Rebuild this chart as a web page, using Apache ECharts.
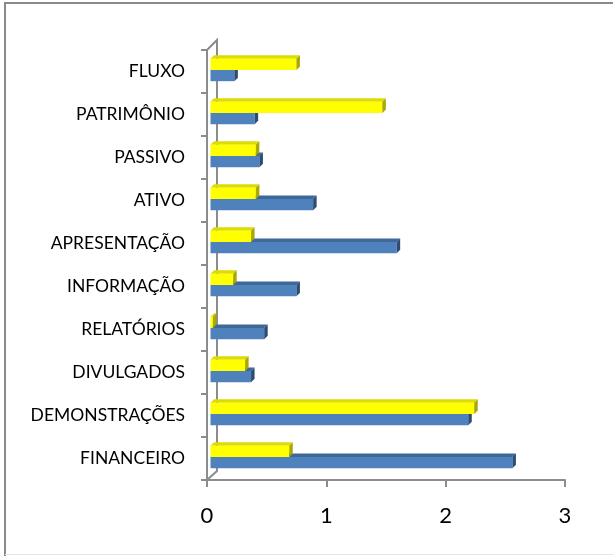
<!DOCTYPE html>
<html>
<head>
<meta charset="utf-8">
<script src="https://cdn.jsdelivr.net/npm/echarts@6/dist/echarts.min.js"></script>
<style>
html,body{margin:0;padding:0;background:#fff;}
#c{width:613px;height:556px;}
</style>
</head>
<body>
<div id="c"></div>
<script>
const categories = ['FINANCEIRO','DEMONSTRAÇÕES','DIVULGADOS','RELATÓRIOS','INFORMAÇÃO','APRESENTAÇÃO','ATIVO','PASSIVO','PATRIMÔNIO','FLUXO'];
const blueValues = [2.53, 2.16, 0.34, 0.45, 0.72, 1.56, 0.86, 0.41, 0.37, 0.20];
const yellowValues = [0.66, 2.21, 0.29, 0.02, 0.19, 0.34, 0.38, 0.38, 1.44, 0.72];
const xTicks = [0, 1, 2, 3];

const G = {left: 207, top: 50, right: 48, bottom: 76};
const W = 613, H = 556;
const axisColor = '#8c8c8c';

function makeRender(slot, front, topC, sideC) {
  return function (params, api) {
    const v = api.value(0), idx = api.value(1);
    const p0 = api.coord([0, idx]);
    const p1 = api.coord([v, idx]);
    const band = api.size([0, 1])[1];
    const bh = band * 0.26;
    const cy = p0[1] - 1.5;
    const top = slot === 0 ? cy : cy - bh;
    const ox = 3.5;
    const x0 = p0[0] + ox, x1 = Math.max(p1[0] + ox, x0 + 1);
    const dx = 3.5, dy = 3.5;
    return {
      type: 'group',
      children: [
        {type: 'polygon', shape: {points: [[x0, top], [x0 + dx, top - dy], [x1 + dx, top - dy], [x1, top]]},
         style: {fill: topC}},
        {type: 'rect', shape: {x: x0, y: top, width: x1 - x0, height: bh},
         style: {fill: front}},
        {type: 'polygon', shape: {points: [[x1, top], [x1 + dx, top - dy], [x1 + dx, top + bh - dy], [x1, top + bh]]},
         style: {fill: sideC}}
      ]
    };
  };
}

const chart = echarts.init(document.getElementById('c'), null, {renderer: 'canvas'});
const depth = 10;
chart.setOption({
  animation: false,
  backgroundColor: '#fff',
  grid: {left: G.left, top: G.top, right: G.right, bottom: G.bottom},
  xAxis: {
    type: 'value', min: 0, max: 3, interval: 1,
    axisLine: {show: true, lineStyle: {color: axisColor, width: 2}},
    axisTick: {show: true, length: 7, lineStyle: {color: axisColor, width: 2}},
    splitLine: {show: false},
    axisLabel: {fontFamily: 'Lato', fontSize: 22, color: '#000', margin: 25,
      formatter: v => xTicks.indexOf(v) >= 0 ? String(v) : ''}
  },
  yAxis: {
    type: 'category', data: categories,
    axisLine: {show: true, lineStyle: {color: axisColor, width: 2}},
    axisTick: {show: true, length: 6, lineStyle: {color: axisColor, width: 2}},
    axisLabel: {fontFamily: 'Lato', fontSize: 17.5, color: '#000', margin: 22, padding: [4, 0, 0, 0]}
  },
  graphic: [
    {type: 'polyline', shape: {points: [[5, 556], [5, 3], [613, 3]]}, style: {fill: 'none', stroke: '#8a8a8a', lineWidth: 2}, z: 100},
    {type: 'line', shape: {x1: 5, y1: 554.5, x2: 613, y2: 554.5}, style: {stroke: '#e4e4e4', lineWidth: 1}, z: 100},
    {type: 'polyline', shape: {points: [[G.left, G.top], [G.left + depth, G.top - depth], [G.left + depth, H - G.bottom - depth + 1], [G.left, H - G.bottom]]},
     style: {fill: 'none', stroke: axisColor, lineWidth: 2}, z: 1}
  ],
  series: [
    {type: 'custom', name: 'Série 1', renderItem: makeRender(0, '#4F81BD', '#3D6898', '#2C4C74'),
     data: blueValues.map((v, i) => [v, i]), encode: {x: 0, y: 1}, z: 2},
    {type: 'custom', name: 'Série 2', renderItem: makeRender(1, '#FFFF00', '#DCDC00', '#A8A800'),
     data: yellowValues.map((v, i) => [v, i]), encode: {x: 0, y: 1}, z: 3}
  ]
});
</script>
</body>
</html>
